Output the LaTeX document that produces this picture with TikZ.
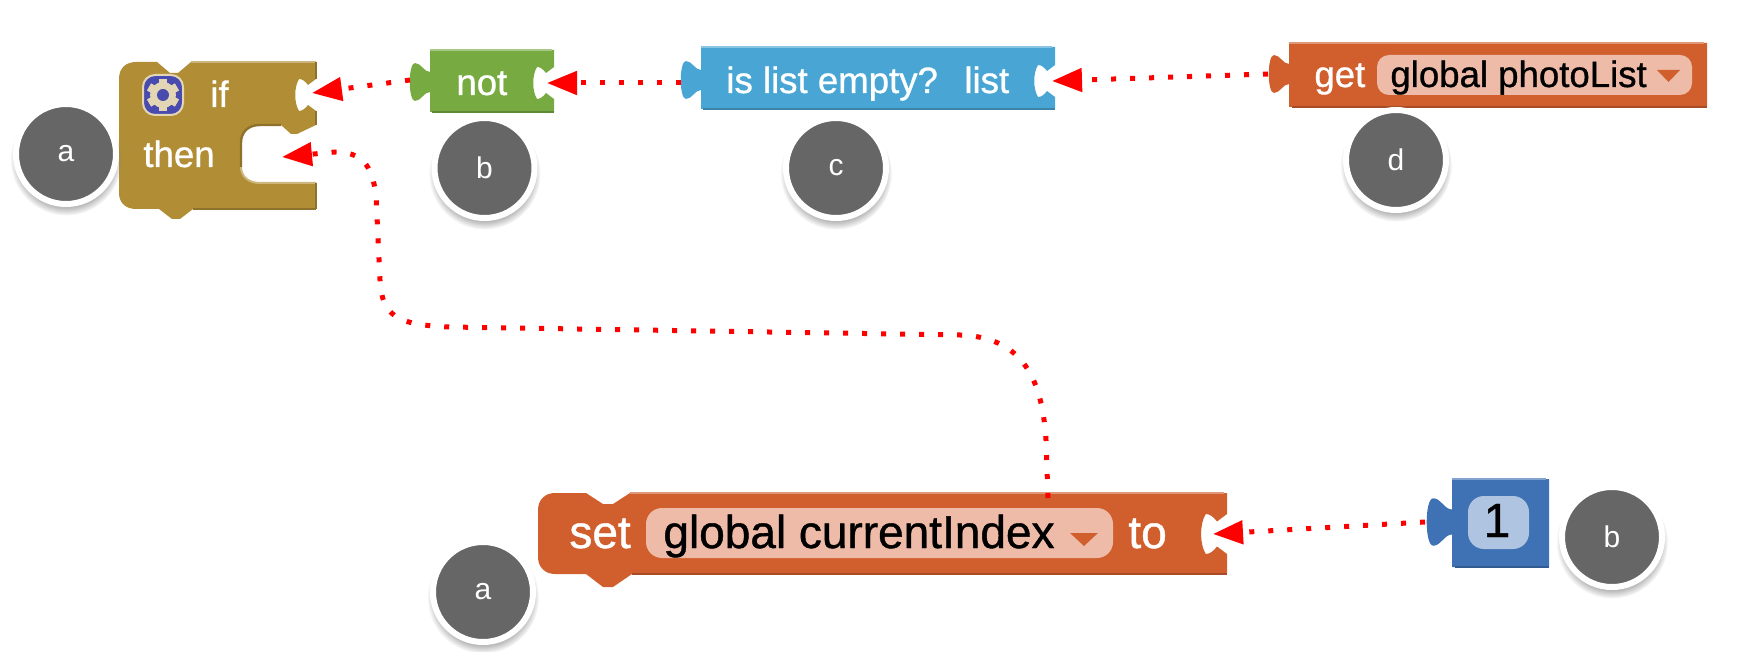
\documentclass[tikz,border=0pt]{standalone}
\usepackage{fontspec}
\setmainfont{Liberation Sans}[FakeBold=0.9]
\newfontfamily\disclabfont{Liberation Sans}
\usetikzlibrary{arrows.meta,shadows,shapes.geometric}
\definecolor{ctlc}{HTML}{B18E35}
\definecolor{logc}{HTML}{77AB41}
\definecolor{lstc}{HTML}{49A6D4}
\definecolor{varc}{HTML}{D05F2D}
\definecolor{mthc}{HTML}{3F71B5}
\definecolor{varf}{HTML}{EDBBA8}
\definecolor{mthf}{HTML}{AFC4E1}
\definecolor{gearb}{HTML}{4A4BAE}
\definecolor{gearc}{HTML}{E3D6B5}
\definecolor{discc}{HTML}{666666}
% right-side socket: R, yc, scale
\newcommand\rnotch[3]{-- ({#1},{#2-16*#3}) -- ({#1-8*#3},{#2-10*#3}) .. controls ({#1-11*#3},{#2-14*#3}) and ({#1-14*#3},{#2-16*#3}) .. ({#1-17*#3},{#2-16*#3}) .. controls ({#1-22*#3},{#2-8*#3}) and ({#1-22*#3},{#2+8*#3}) .. ({#1-17*#3},{#2+16*#3}) .. controls ({#1-14*#3},{#2+16*#3}) and ({#1-11*#3},{#2+14*#3}) .. ({#1-8*#3},{#2+10*#3}) -- ({#1},{#2+16*#3})}
% left-side plug: L, yc, scale, traversed upward
\newcommand\ltab[3]{-- ({#1},{#2+10*#3}) .. controls ({#1-6*#3},{#2+10*#3}) and ({#1-9*#3},{#2+19*#3}) .. ({#1-15*#3},{#2+19*#3}) .. controls ({#1-22*#3},{#2+19*#3}) and ({#1-22*#3},{#2-19*#3}) .. ({#1-15*#3},{#2-19*#3}) .. controls ({#1-9*#3},{#2-19*#3}) and ({#1-6*#3},{#2-10*#3}) .. ({#1},{#2-10*#3})}
\tikzset{
  x=0.5pt,y=-0.5pt,
  wire/.style={red,line width=2.5pt,dash pattern=on 2.5pt off 7pt,
    -{Triangle[length=15pt,width=11.5pt,fill=red]}},
  disc/.style={circle,fill=discc,draw=white,line width=3pt,minimum size=50pt,inner sep=0pt,
    text=white,font=\disclabfont\fontsize{15}{15}\selectfont,
    circular drop shadow={shadow xshift=0pt,shadow yshift=-2.5pt,shadow scale=1.12,opacity=.55}},
  whitelab/.style={anchor=base west,inner sep=0pt,text=white},
  blacklab/.style={anchor=base west,inner sep=0pt,text=black},
  small/.style={font=\fontsize{18.3}{18.3}\selectfont},
  big/.style={font=\fontsize{23}{23}\selectfont},
  litedge/.style={line width=1pt},
  darkedge/.style={line width=1.2pt},
}
\begin{document}
\begin{tikzpicture}
\useasboundingbox (0,0) rectangle (1757,652);

% if-then block
\fill[ctlc] (119,79) .. controls (119,68) and (126,62) .. (136,62) -- (157,62) -- (170,73) -- (178,73) -- (191,62) -- (316,62)
  \rnotch{316}{95}{1} -- (316,125) -- (297,134) -- (291,134) -- (281,125) -- (260,125)
  .. controls (248,125) and (241,132) .. (241,143) -- (241,167)
  .. controls (241,176) and (248,183) .. (260,183) -- (316,183) -- (316,209) -- (193,209) -- (180,219) -- (172,219) -- (159,209) -- (136,209)
  .. controls (126,209) and (119,203) .. (119,193) -- cycle;
\draw[ctlc!65!white,litedge] (191,62) -- (316,62);
\draw[ctlc!80!black,darkedge] (193,209) -- (316,209);
\draw[ctlc!65!white,litedge] (241,167) .. controls (241,176) and (248,183) .. (260,183) -- (316,183);
\draw[ctlc!80!black,darkedge] (316,62) -- (316,79) (316,111) -- (316,125) (316,183) -- (316,209);
\draw[ctlc!80!black,darkedge] (281,125) -- (260,125) .. controls (248,125) and (241,132) .. (241,143) -- (241,167);
% gear button
\fill[gearb,draw=gearc,line width=1pt,rounded corners=6pt] (143,75) rectangle (183,115);
\foreach \a in {0,60,...,300}{
  \fill[gearc,rotate around={\a:(163,95)}] (159,79) rectangle (167,111);
}
\fill[gearc] (163,95) circle[radius=6.5pt];
\fill[gearb] (163,95) circle[radius=3pt];
\node[whitelab,small] (iflab) at (210,107) {if};
\node[whitelab,small] (thenlab) at (143,167) {then};

% not block
\fill[logc] (430,50) -- (554,50) \rnotch{554}{83}{1} -- (554,112) -- (430,112) \ltab{430}{82}{1} -- cycle;
\draw[logc!65!white,litedge] (430,50) -- (552,50);
\draw[logc!80!black,darkedge] (432,112) -- (554,112);
\node[whitelab,small] (notlab) at (456,95) {not};

% is list empty block
\fill[lstc] (701,47) -- (1055,47) \rnotch{1055}{81}{1} -- (1055,109) -- (701,109) \ltab{701}{80}{1} -- cycle;
\draw[lstc!65!white,litedge] (701,47) -- (1052,47);
\draw[lstc!80!black,darkedge] (703,109) -- (1055,109);
\node[whitelab,small] (emptylab) at (726,93) {is list empty?};
\node[whitelab,small] (listlab) at (964,93) {list};

% get block
\fill[varc] (1289,43) -- (1707,43) -- (1707,107) -- (1289,107) \ltab{1289}{74}{1} -- cycle;
\draw[varc!65!white,litedge] (1289,43) -- (1704,43);
\draw[varc!80!black,darkedge] (1292,107) -- (1707,107);
\node[whitelab,small] (getlab) at (1314,87) {get};
\fill[varf,rounded corners=6pt] (1377,55) rectangle (1692,95);
\node[blacklab,small] (photolab) at (1390,87) {global photoList};
\fill[varc] (1657,70) -- (1680,70) -- (1668.5,82) -- cycle;

% set block
\fill[varc] (538,510) .. controls (538,500) and (545,493) .. (555,493) -- (586,493) -- (603,504) -- (613,504) -- (630,493) -- (1227,493)
  \rnotch{1227}{534}{1.25} -- (1227,574) -- (632,574) -- (613,587) -- (603,587) -- (586,574) -- (555,574)
  .. controls (545,574) and (538,567) .. (538,557) -- cycle;
\draw[varc!65!white,litedge] (630,493) -- (1224,493);
\draw[varc!80!black,darkedge] (632,574) -- (1227,574);
\node[whitelab,big] (setlab) at (569,548) {set};
\fill[varf,rounded corners=8pt] (646,508) rectangle (1113,558);
\node[blacklab,big] (indexlab) at (663,548) {global currentIndex};
\fill[varc] (1070,533) -- (1098,533) -- (1084,546) -- cycle;
\node[whitelab,big] (tolab) at (1128,548) {to};

% number block
\fill[mthc] (1452,479) -- (1549,479) -- (1549,567) -- (1452,567) \ltab{1452}{522}{1.25} -- cycle;
\draw[mthc!65!white,litedge] (1452,479) -- (1546,479);
\draw[mthc!80!black,darkedge] (1455,567) -- (1549,567);
\fill[mthf,rounded corners=8pt] (1468,496) rectangle (1529,549);
\node[inner sep=0pt,anchor=base,font=\fontsize{24}{24}\selectfont] (onelab) at (1497,537) {1};

% ports
\coordinate (ifIn) at (312,93);
\coordinate (notOut) at (410,80);
\coordinate (notIn) at (547,83);
\coordinate (emptyOut) at (681,83);
\coordinate (emptyIn) at (1052,81);
\coordinate (getOut) at (1268,74);
\coordinate (setIn) at (1213,534);
\coordinate (oneOut) at (1425,522);
\coordinate (setTop) at (1048,498);
\coordinate (thenIn) at (282,157);

% connectors
\draw[wire] (notOut) -- (ifIn);
\draw[wire] (emptyOut) -- (notIn);
\draw[wire] (getOut) -- (emptyIn);
\draw[wire] (oneOut) -- (setIn);
\draw[wire] (setTop) -- (1046,440) .. controls (1042,375) and (1020,337) .. (960,335)
  -- (450,327) .. controls (395,325) and (382,315) .. (380,280)
  -- (376,195) .. controls (372,165) and (362,152) .. (335,152) -- (thenIn);

% discs
\node[disc] (da) at (66,154) {a};
\node[disc] (db) at (484.5,168) {b};
\node[disc] (dc) at (836,168) {c};
\node[disc] (dd) at (1396,160) {d};
\node[disc] (da2) at (483,592) {a};
\node[disc] (db2) at (1612,537) {b};
\end{tikzpicture}
\end{document}
